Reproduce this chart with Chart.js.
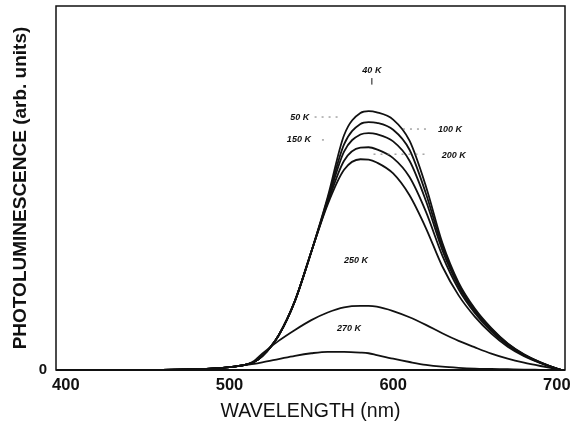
<!DOCTYPE html>
<html>
<head>
<meta charset="utf-8">
<script src="https://cdn.jsdelivr.net/npm/chart.js@4/dist/chart.umd.min.js"></script>
<style>
  html, body { margin: 0; padding: 0; background: #fff; }
  #wrap { width: 576px; height: 428px; }
</style>
</head>
<body>
<div id="wrap"><canvas id="plChart" width="576" height="428"></canvas></div>
<script>
// wavelength grid (nm) shared by every spectrum
const wavelengths = [400, 450, 480, 500, 510, 515, 520, 530, 540, 550, 560, 570, 580, 585, 590, 600, 610, 620, 630, 640, 650, 660, 670, 680, 690, 700, 703];

// PL intensity (arb. units) at each temperature
const pl40K  = [0, 0, 0.2, 0.8, 1.5, 2.2, 3.8, 9.5, 19, 32.5, 47.5, 64.5, 70.6, 71.1, 70.8, 68.8, 63, 50.5, 35, 24, 16.8, 11.5, 7.3, 4.3, 2.1, 0.4, 0];
const pl50K  = [0, 0, 0.2, 0.8, 1.5, 2.2, 3.8, 9.5, 19, 32.5, 47, 62, 67.6, 68.1, 67.9, 66, 60.5, 48.5, 34, 23.6, 16.5, 11.3, 7.2, 4.2, 2.1, 0.4, 0];
const pl100K = [0, 0, 0.2, 0.8, 1.5, 2.2, 3.8, 9.5, 19, 32.5, 46.5, 60, 64.7, 65.1, 64.8, 62.8, 57.5, 46.5, 33, 23, 16.1, 11, 7, 4.1, 2, 0.4, 0];
const pl150K = [0, 0, 0.2, 0.8, 1.5, 2.2, 3.8, 9.5, 19, 32.5, 46, 57.5, 61.1, 61.2, 60.6, 58.2, 53, 43.5, 31.5, 22.2, 15.6, 10.6, 6.8, 4, 2, 0.4, 0];
const pl200K = [0, 0, 0.2, 0.8, 1.5, 2.2, 3.8, 9.5, 19, 32.5, 45.5, 55, 57.9, 57.8, 57, 54, 48, 39, 28.5, 20.5, 14.6, 10, 6.4, 3.8, 1.9, 0.4, 0];
const pl250K = [0, 0, 0.2, 0.8, 1.5, 2.5, 4.5, 8, 11, 13.7, 15.8, 17.2, 17.6, 17.6, 17.4, 16.2, 14.5, 12.4, 10.1, 8, 6.2, 4.5, 3.1, 2, 1.1, 0.3, 0];
const pl270K = [0, 0, 0.2, 0.8, 1.4, 1.7, 2.1, 3, 3.9, 4.6, 5, 5, 4.8, 4.6, 4.1, 3.1, 2.2, 1.4, 0.9, 0.6, 0.4, 0.3, 0.2, 0.1, 0.05, 0, 0];

const xTicks = [400, 500, 600, 700];
const yTicks = [0];

// temperature labels: text, anchor (nm, intensity), optional leader [nm from, nm to, intensity]
const tempLabels = [
    { text: '40 K',  x: 587,   y: 82.4, tick: [587, 80.2, 78.4] },
    { text: '50 K',  x: 543,   y: 69.5, leader: [552, 568, 69.5] },
    { text: '150 K', x: 542.4, y: 63.2, leader: [556.5, 559.5, 63.2] },
    { text: '100 K', x: 634.7, y: 66.2, leader: [606, 621, 66.2] },
    { text: '200 K', x: 637,   y: 58.8, leader: [588, 620, 59.3] },
    { text: '250 K', x: 577.3, y: 30.2 },
    { text: '270 K', x: 573,   y: 11.3 }
];

const series = [pl40K, pl50K, pl100K, pl150K, pl200K, pl250K, pl270K];
const names = ['40 K', '50 K', '100 K', '150 K', '200 K', '250 K', '270 K'];

const datasets = series.map((vals, i) => ({
    label: names[i],
    data: wavelengths.map((w, j) => ({ x: w, y: vals[j] })),
    borderColor: '#111',
    borderWidth: 1.8,
    pointRadius: 0,
    fill: false,
    cubicInterpolationMode: 'monotone'
}));

// box around the plot plus the temperature annotations
const framePlugin = {
    id: 'frame',
    afterDatasetsDraw(chart) {
        const ctx = chart.ctx;
        const a = chart.chartArea;
        const xs = chart.scales.x;
        const ys = chart.scales.y;
        ctx.save();
        ctx.strokeStyle = '#111';
        ctx.lineWidth = 1.5;
        ctx.strokeRect(a.left, a.top, a.right - a.left, a.bottom - a.top);
        ctx.lineWidth = 2.2;
        ctx.beginPath();
        ctx.moveTo(a.left, a.bottom);
        ctx.lineTo(a.right, a.bottom);
        ctx.stroke();

        ctx.fillStyle = '#111';
        ctx.font = 'italic bold 9px "Liberation Sans", Arial, sans-serif';
        ctx.textAlign = 'center';
        ctx.textBaseline = 'middle';
        tempLabels.forEach(l => {
            ctx.fillText(l.text, xs.getPixelForValue(l.x), ys.getPixelForValue(l.y));
            if (l.tick) {
                ctx.lineWidth = 1;
                ctx.setLineDash([]);
                ctx.beginPath();
                ctx.moveTo(xs.getPixelForValue(l.tick[0]), ys.getPixelForValue(l.tick[1]));
                ctx.lineTo(xs.getPixelForValue(l.tick[0]), ys.getPixelForValue(l.tick[2]));
                ctx.stroke();
            }
            if (l.leader) {
                ctx.strokeStyle = '#777';
                ctx.lineWidth = 1;
                ctx.setLineDash([2, 5]);
                ctx.beginPath();
                ctx.moveTo(xs.getPixelForValue(l.leader[0]), ys.getPixelForValue(l.leader[2]));
                ctx.lineTo(xs.getPixelForValue(l.leader[1]), ys.getPixelForValue(l.leader[2]));
                ctx.stroke();
                ctx.setLineDash([]);
                ctx.strokeStyle = '#111';
            }
        });
        ctx.restore();
    }
};

const ctx = document.getElementById('plChart').getContext('2d');
new Chart(ctx, {
    type: 'line',
    data: { datasets },
    plugins: [framePlugin],
    options: {
        responsive: false,
        animation: false,
        layout: { padding: { top: 6, right: 11, left: 0, bottom: 0 } },
        plugins: { legend: { display: false }, tooltip: { enabled: false } },
        scales: {
            x: {
                type: 'linear',
                min: 394,
                max: 705,
                afterBuildTicks: s => { s.ticks = xTicks.map(v => ({ value: v })); },
                afterFit: s => { s.height = 58; s.paddingLeft = 0; s.paddingRight = 0; },
                grid: { display: false, drawTicks: false },
                border: { display: false },
                ticks: {
                    color: '#111',
                    padding: 6,
                    maxRotation: 0,
                    font: { family: '"Liberation Sans", Arial, sans-serif', size: 16.5, weight: 'bold' }
                },
                title: {
                    display: true,
                    text: 'WAVELENGTH (nm)',
                    color: '#111',
                    padding: { top: 0, bottom: 5 },
                    font: { family: '"Liberation Sans", Arial, sans-serif', size: 19.5 }
                }
            },
            y: {
                min: 0,
                max: 100,
                afterBuildTicks: s => { s.ticks = yTicks.map(v => ({ value: v })); },
                afterFit: s => { s.width = 56; s.paddingTop = 0; s.paddingBottom = 0; },
                grid: { display: false, drawTicks: false },
                border: { display: false },
                ticks: {
                    color: '#111',
                    padding: 9,
                    font: { family: '"Liberation Sans", Arial, sans-serif', size: 15, weight: 'bold' }
                },
                title: {
                    display: true,
                    text: 'PHOTOLUMINESCENCE (arb. units)',
                    color: '#111',
                    padding: { top: 9, bottom: 0 },
                    font: { family: '"Liberation Sans", Arial, sans-serif', size: 19, weight: 'bold' }
                }
            }
        }
    }
});
</script>
</body>
</html>
